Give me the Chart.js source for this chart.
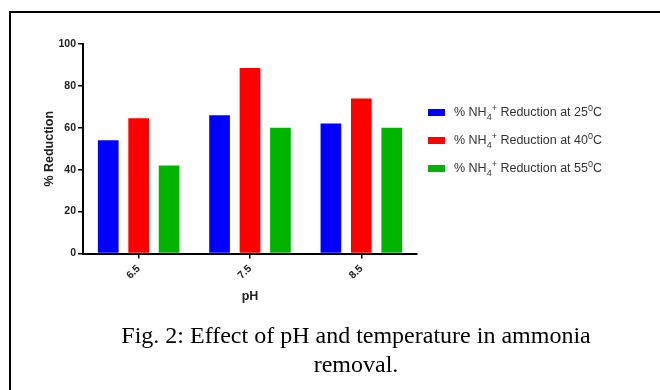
<!DOCTYPE html>
<html>
<head>
<meta charset="utf-8">
<script src="https://cdn.jsdelivr.net/npm/chart.js@4/dist/chart.umd.min.js"></script>
<style>
  html, body { margin:0; padding:0; background:#fff; }
  body { width:660px; height:390px; position:relative; overflow:hidden; }
  #frame { position:absolute; left:9px; top:11px; width:700px; height:420px;
           border-left:2px solid #000; border-top:2px solid #000; }
  #c { position:absolute; left:0; top:0; }
  #legend { position:absolute; left:428px; top:103px; font-family:"Liberation Sans", Arial, sans-serif;
            font-size:12.5px; color:#333; }
  .row { position:relative; height:28px; }
  .sw { position:absolute; left:0; top:6px; width:17px; height:7px; }
  .lt { position:absolute; left:26px; top:2px; white-space:nowrap; line-height:15px; }
  .lt sub { font-size:9px; vertical-align:-4px; line-height:0; }
  .lt sup { font-size:9px; vertical-align:5px; line-height:0; }
  #caption { position:absolute; left:46px; width:620px; top:321px; text-align:center;
             font-family:"Liberation Serif", "Times New Roman", serif; font-size:24px; line-height:29px; color:#000; }
</style>
</head>
<body>
<div id="frame"></div>
<canvas id="c" width="660" height="390"></canvas>
<div id="legend"></div>
<div id="caption">Fig. 2: Effect of pH and temperature in ammonia<br>removal.</div>
<script>
const categories = ['6.5', '7.5', '8.5'];
const seriesNames = ['25', '40', '55'];
const reduction25 = [54, 66, 62];
const reduction40 = [64.5, 88.5, 74];
const reduction55 = [42, 60, 60];
const yTicks = [0, 20, 40, 60, 80, 100];
const colors = ['#0000ff', '#ff0000', '#00b400'];

const seriesValues = [reduction25, reduction40, reduction55];

const datasets = seriesNames.map((n, i) => ({
  label: '% NH4+ Reduction at ' + n + '0C',
  data: seriesValues[i],
  backgroundColor: colors[i],
  borderWidth: 0,
  categoryPercentage: 0.82,
  barPercentage: 0.68
}));

// HTML legend (allows sub/superscripts)
const leg = document.getElementById('legend');
seriesNames.forEach((n, i) => {
  const row = document.createElement('div');
  row.className = 'row';
  row.innerHTML = '<div class="sw" style="background:' + colors[i] + '"></div>' +
    '<div class="lt">% NH<sub>4</sub><sup>+</sup> Reduction at ' + n + '<sup>0</sup>C</div>';
  leg.appendChild(row);
});

const tickFont = { family: '"Liberation Sans", Arial, sans-serif', size: 10.5, weight: 'bold' };
const titleFont = { family: '"Liberation Sans", Arial, sans-serif', size: 12.5, weight: 'bold' };

new Chart(document.getElementById('c'), {
  type: 'bar',
  data: { labels: categories, datasets },
  options: {
    responsive: false,
    devicePixelRatio: 1,
    animation: false,
    layout: { padding: { left: 0, right: 243, top: 44, bottom: 0 } },
    plugins: { legend: { display: false }, tooltip: { enabled: false } },
    scales: {
      x: {
        afterFit: s => { s.height = 136.5; },
        grid: { display: true, drawOnChartArea: false, drawTicks: true, tickLength: 5, color: '#000', lineWidth: 1.5, offset: false },
        border: { display: true, color: '#000', width: 2 },
        ticks: { font: tickFont, color: '#222', minRotation: 45, maxRotation: 45, padding: 4 },
        title: { display: true, text: 'pH', font: titleFont, color: '#222', padding: { top: 0, bottom: 86 } }
      },
      y: {
        min: 0, max: 100,
        afterFit: s => { s.width = 83; },
        afterBuildTicks: s => { s.ticks = yTicks.map(v => ({ value: v })); },
        grid: { display: true, drawOnChartArea: false, drawTicks: true, tickLength: 5, color: '#000', lineWidth: 1.5 },
        border: { display: true, color: '#000', width: 2 },
        ticks: { font: tickFont, color: '#222', padding: 2 },
        title: { display: true, text: '% Reduction', font: titleFont, color: '#222', padding: { top: 42, bottom: 0 } }
      }
    }
  }
});
</script>
</body>
</html>
